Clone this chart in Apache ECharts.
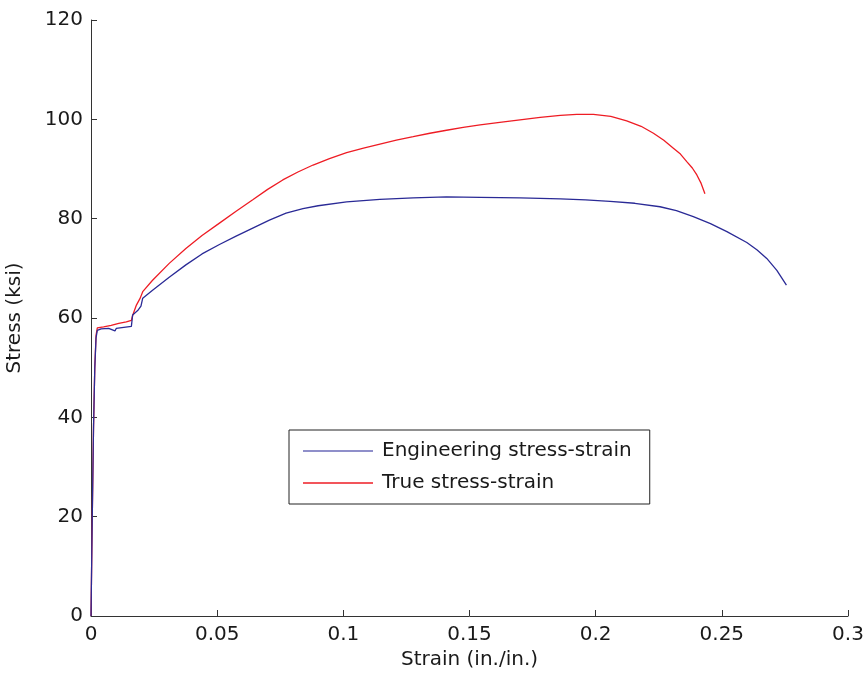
<!DOCTYPE html>
<html>
<head>
<meta charset="utf-8">
<script src="https://cdn.jsdelivr.net/npm/echarts@6/dist/echarts.min.js"></script>
<style>
html,body{margin:0;padding:0;background:#fff;}
#chart{width:867px;height:679px;}
</style>
</head>
<body>
<div id="chart"></div>
<script>
// Engineering stress-strain: strain (in./in.) and stress (ksi)
var engStrain = [0,0.0005,0.001,0.0015,0.002,0.0025,0.004,0.007,0.0095,0.010,0.013,0.016,0.0163,0.0165,0.0185,0.0198,0.0205,0.0244,0.031,0.0376,0.044,0.0509,0.0575,0.0641,0.0707,0.0773,0.084,0.09,0.1013,0.1145,0.1277,0.1409,0.1542,0.17,0.186,0.196,0.2057,0.2155,0.2255,0.232,0.2387,0.2455,0.252,0.2599,0.264,0.2678,0.2718,0.2756];
var engStress = [0,20,38,50,56,57.5,57.8,57.9,57.4,57.9,58.1,58.3,58.4,60.6,61.5,62.4,64.0,65.6,68.2,70.7,72.9,74.8,76.5,78.1,79.7,81.1,82.0,82.6,83.4,83.9,84.2,84.4,84.3,84.2,84.0,83.8,83.5,83.1,82.4,81.6,80.4,79.0,77.4,75.2,73.7,72.0,69.6,66.6];
// True stress-strain
var trueStrain = [0,0.0005,0.001,0.0015,0.002,0.0025,0.005,0.008,0.011,0.014,0.016,0.0165,0.018,0.0195,0.0205,0.0244,0.031,0.0376,0.044,0.0509,0.0575,0.0641,0.070,0.076,0.082,0.088,0.0945,0.1013,0.108,0.1145,0.121,0.1277,0.1343,0.1409,0.1475,0.1542,0.162,0.170,0.178,0.186,0.1925,0.1991,0.206,0.2123,0.218,0.2229,0.227,0.2308,0.2336,0.2361,0.2383,0.2401,0.2418,0.2433];
var trueStress = [0,20,38,50,56.5,58.0,58.2,58.5,58.9,59.2,59.5,60.5,62.6,64.0,65.3,67.6,71.0,74.0,76.6,79.1,81.5,83.8,85.9,87.8,89.4,90.8,92.1,93.3,94.2,95.0,95.8,96.5,97.2,97.8,98.4,98.9,99.4,99.9,100.4,100.8,101.0,101.0,100.6,99.7,98.6,97.2,95.8,94.2,93.0,91.5,90.2,88.8,87.1,85.0];
var seriesNames = ['Engineering stress-strain','True stress-strain'];

function zip(a,b){return a.map(function(v,i){return [v,b[i]];});}

var FONT = 'DejaVu Sans';
var BLUE = '#2a2a96', RED = '#ee1c24';
var chart = echarts.init(document.getElementById('chart'), null, {renderer:'canvas'});
chart.setOption({
  backgroundColor:'#ffffff',
  animation:false,
  grid:{left:91,right:19,top:20,bottom:63,containLabel:false,outerBoundsMode:'none'},
  xAxis:{
    type:'value',min:0,max:0.3,interval:0.05,
    name:'Strain (in./in.)',nameLocation:'middle',nameGap:34,
    nameTextStyle:{fontFamily:FONT,fontSize:20,color:'#1a1a1a'},
    axisLine:{show:true,lineStyle:{color:'#333',width:1}},
    axisTick:{show:true,inside:true,length:6,lineStyle:{color:'#333'}},
    axisLabel:{fontFamily:FONT,fontSize:20,color:'#1a1a1a',margin:9},
    splitLine:{show:false}
  },
  yAxis:{
    type:'value',min:0,max:120,interval:20,
    name:'Stress (ksi)',nameLocation:'middle',nameGap:66,
    nameTextStyle:{fontFamily:FONT,fontSize:20,color:'#1a1a1a'},
    axisLine:{show:true,lineStyle:{color:'#333',width:1}},
    axisTick:{show:true,inside:true,length:6,lineStyle:{color:'#333'}},
    axisLabel:{fontFamily:FONT,fontSize:20,color:'#1a1a1a',margin:8},
    splitLine:{show:false}
  },
  legend:{
    left:289,top:430,orient:'vertical',
    backgroundColor:'#fff',borderColor:'#222',borderWidth:1,
    padding:[11,18,11,14],itemGap:12,itemWidth:70,itemHeight:1.3,
    icon:'rect',
    textStyle:{fontFamily:FONT,fontSize:20,color:'#1a1a1a',padding:[0,0,0,4],height:20,lineHeight:20},
    data:[{name:seriesNames[0],itemStyle:{color:'#6a6ab8'}},{name:seriesNames[1],itemStyle:{color:RED}}]
  },
  series:[
    {name:seriesNames[0],type:'line',data:zip(engStrain,engStress),symbol:'none',
     lineStyle:{color:BLUE,width:1.3},itemStyle:{color:BLUE},z:3},
    {name:seriesNames[1],type:'line',data:zip(trueStrain,trueStress),symbol:'none',
     lineStyle:{color:RED,width:1.3},itemStyle:{color:RED},z:2}
  ]
});
</script>
</body>
</html>
